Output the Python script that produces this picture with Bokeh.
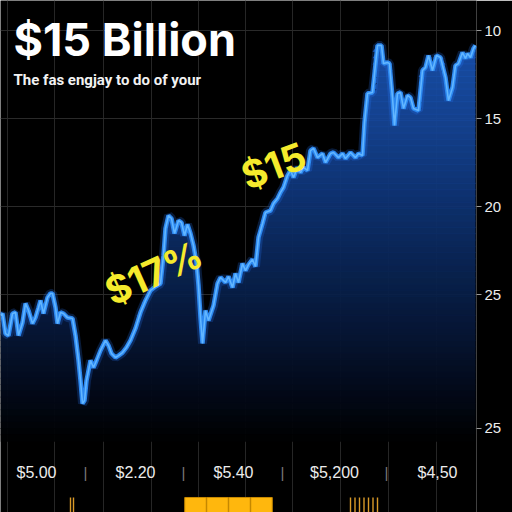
import numpy as np
from bokeh.plotting import figure
from bokeh.models import Range1d, FixedTicker, Label
from bokeh.core.properties import value
from bokeh.embed import file_html
from bokeh.resources import INLINE

# ---------------- data ----------------
day = [0, 2, 5, 8, 12, 15, 18, 22, 25, 28, 32, 35, 38, 40, 43, 47, 50, 52, 55, 57,
       60, 63, 67, 72, 75, 78, 80, 82, 84, 86, 88, 90, 93, 96, 100, 105, 108, 111, 115, 118,
       122, 126, 130, 135, 140, 145, 150, 155, 160, 163, 165, 168, 171, 174, 178, 181, 184, 187, 190, 193,
       196, 198, 200, 202, 205, 208, 213, 217, 220, 225, 228, 232, 235, 238, 242, 245, 248, 252, 255, 258,
       262, 265, 270, 273, 277, 280, 283, 287, 290, 293, 297, 300, 303, 307, 310, 313, 317, 322, 325, 330,
       333, 338, 342, 345, 350, 355, 358, 362, 364, 367, 372, 377, 381, 383, 387, 389, 392, 394, 397, 400,
       403, 407, 410, 413, 418, 422, 425, 428, 432, 436, 440, 445, 448, 452, 455, 458, 462, 465, 467, 470,
       473, 475]
price = [26.19, 26.08, 27.22, 27.33, 26.08, 26.02, 27.33, 26.59, 25.51, 25.91, 26.65, 26.31, 25.74, 25.34, 26.08, 25.17, 24.94, 24.94, 25.74, 26.65,
         26.02, 26.08, 26.31, 26.36, 27.33, 28.75, 29.89, 31.19, 31.02, 29.89, 29.32, 28.75, 29.15, 28.75, 28.18, 27.61, 27.90, 28.35, 28.58, 28.47,
         28.30, 28.01, 27.61, 26.93, 26.02, 25.34, 24.77, 24.55, 24.38, 22.78, 21.25, 20.51, 20.68, 21.53, 20.80, 20.91, 21.65, 21.02, 21.53, 22.22,
         23.18, 24.49, 26.31, 27.78, 25.91, 26.48, 25.63, 24.38, 24.03, 24.32, 23.98, 24.60, 23.81, 24.32, 23.24, 23.64, 23.30, 23.01, 23.41, 21.76,
         20.97, 20.34, 20.23, 19.83, 19.55, 19.20, 18.92, 18.24, 17.95, 18.35, 17.78, 18.07, 17.78, 17.95, 16.82, 16.70, 17.22, 16.99, 17.50, 16.99,
         16.93, 17.22, 16.99, 17.27, 16.93, 17.22, 16.99, 17.10, 15.23, 13.58, 13.52, 10.85, 10.85, 11.88, 11.82, 11.88, 13.81, 15.40, 13.58, 13.52,
         14.43, 13.69, 13.81, 14.43, 14.55, 12.27, 12.10, 11.42, 12.27, 11.42, 11.53, 12.67, 13.98, 13.24, 11.99, 11.88, 11.25, 11.59, 11.31, 11.53,
         11.02, 10.85]

y_ticks = [10, 15, 20, 25, 32.6]
y_tick_labels = {32.6: "25"}

callouts = ["$17%", "$15"]
callout_day = [153, 273]
callout_price = [23.75, 17.67]

bottom_labels = ["$5.00", "$2.20", "$5.40", "$5,200", "$4,50"]
bottom_label_day = [36, 135, 233, 334, 437]
separator_day = [85, 183, 282, 386]
label_level = 2.67

vol_day_big = [195, 217, 239, 261]
vol_big = [1.0, 1.0, 1.0, 1.0]
vol_day_thin = [70, 73, 350, 354.5, 359, 363.5, 368, 372.5, 377]
vol_thin = [1.0, 1.0, 1.0, 1.0, 1.0, 1.0, 1.0, 1.0, 1.0]

grid_days = [7, 54, 103, 151, 198, 245, 292, 340, 388, 436]

# ---------------- figure ----------------
TOP, BOTTOM = 8.295, 37.386
FILL_END = 33.3
p = figure(width=512, height=512, x_range=Range1d(0, 476), y_range=Range1d(BOTTOM, TOP),
           output_backend="svg", toolbar_location=None, x_axis_location=None,
           y_axis_location="right", min_border=0, min_border_right=36,
           background_fill_color="black", border_fill_color="black",
           outline_line_color=None)
p.extra_y_ranges = {"strip": Range1d(0, 34.133)}

p.xgrid.ticker = FixedTicker(ticks=grid_days)
p.xgrid.grid_line_color = "#262626"
p.ygrid.grid_line_color = "#2a2a2a"

ax = p.yaxis[0]
ax.ticker = FixedTicker(ticks=y_ticks)
ax.major_label_overrides = y_tick_labels
ax.axis_line_color = None
ax.minor_tick_line_color = None
ax.major_tick_line_color = "#9a9a9a"
ax.major_tick_in = 0
ax.major_tick_out = 5
ax.major_label_standoff = 3
ax.major_label_text_color = "#ececec"
ax.major_label_text_font = "Liberation Sans"
ax.major_label_text_font_size = "15px"

# gradient fill built from horizontal bands below the line
xs = np.array(day, dtype=float)
vals = np.array(price)
stops_v = [8.3, 10.0, 15.0, 19.0, 23.0, 27.0, 31.0, 33.3]
stops_c = [(0x1c, 0x58, 0xbc), (0x1a, 0x54, 0xb4), (0x15, 0x46, 0x98), (0x0f, 0x36, 0x7a),
           (0x0a, 0x26, 0x58), (0x06, 0x17, 0x38), (0x02, 0x08, 0x16), (0, 0, 0)]
edges = np.linspace(TOP, FILL_END, 71)
eps = 0.06
for a, b in zip(edges[:-1], edges[1:]):
    mid = 0.5 * (a + b)
    rgb = [int(round(np.interp(mid, stops_v, [c[i] for c in stops_c]))) for i in range(3)]
    col = "#%02x%02x%02x" % tuple(rgb)
    y1 = np.clip(vals, a, b + eps)
    p.varea(x=xs, y1=y1, y2=b + eps, fill_color=col, fill_alpha=0.93)

p.line(xs, vals, line_color="#2a7cff", line_width=9, line_alpha=0.22)
p.line(xs, vals, line_color="#2c88f0", line_width=4.5)
p.line(xs, vals, line_color="#62b6ff", line_width=1.6)

p.text(x=callout_day, y=callout_price, text=callouts, angle=[0.42, 0.36],
       text_align="center", text_baseline="middle", text_color="#f5ea2c",
       text_font=value("Inter"), text_font_style="bold", text_font_size="38px")

p.add_layout(Label(x=13, y=473, x_units="screen", y_units="screen", text="$15 Billion",
                   text_color="white", text_font="Inter", text_font_style="bold",
                   text_font_size="45px", text_baseline="alphabetic"))
p.add_layout(Label(x=13, y=433, x_units="screen", y_units="screen",
                   text="The fas engjay to do of your",
                   text_color="#f2f2f2", text_font="Roboto", text_font_style="bold",
                   text_font_size="15px", text_baseline="alphabetic"))

# ---------------- bottom strip (labels + volume) ----------------
p.text(x=bottom_label_day, y=[label_level] * len(bottom_labels), text=bottom_labels,
       y_range_name="strip", text_align="center", text_baseline="middle",
       text_color="#ececec", text_font=value("Liberation Sans"), text_font_size="16px")
p.text(x=separator_day, y=[label_level] * len(separator_day), text=["|"] * len(separator_day),
       y_range_name="strip", text_align="center", text_baseline="middle",
       text_color="#7a7a7a", text_font=value("Liberation Sans"), text_font_size="15px")

p.vbar(x=vol_day_big, top=vol_big, bottom=0, width=21.5, y_range_name="strip",
       fill_color="#ffb70d", line_color="#c98a00", line_width=1)
p.vbar(x=vol_day_thin, top=vol_thin, bottom=0, width=1.4, y_range_name="strip",
       fill_color="#d99a28", line_color=None)

open("out.html", "w").write(file_html(p, INLINE))
